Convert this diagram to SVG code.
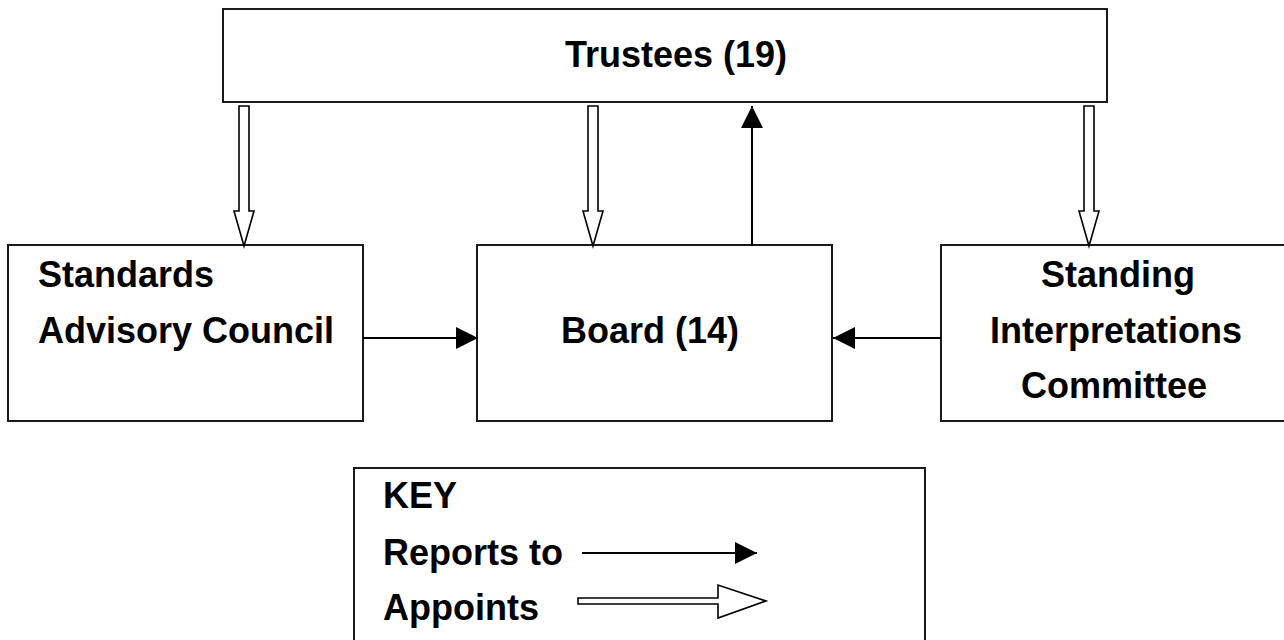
<svg xmlns="http://www.w3.org/2000/svg" width="1284" height="640" viewBox="0 0 1284 640">
  <style>
    .box { fill: #fff; stroke: #1a1a1a; stroke-width: 2; }
    .lbl { font-family: "Liberation Sans", Arial, sans-serif; font-weight: bold; font-size: 36px; fill: #000; }
    .mid { text-anchor: middle; }
    .rep { stroke: #000; stroke-width: 2; fill: none; }
    .app { fill: #fff; stroke: #000; stroke-width: 1.6; stroke-linejoin: miter; }
  </style>
  <defs>
    <marker id="head" markerUnits="userSpaceOnUse" markerWidth="22" markerHeight="22" viewBox="0 0 20 20" refX="20" refY="10" orient="auto">
      <path d="M0,0 L20,10 L0,20 Z" fill="#000"/>
    </marker>
  </defs>
  <rect width="1284" height="640" fill="#fff"/>

  <g id="trustees">
    <rect class="box" x="223" y="9" width="884" height="93"/>
    <text class="lbl mid" x="676" y="67">Trustees (19)</text>
  </g>

  <g id="sac">
    <rect class="box" x="8" y="245" width="355" height="176"/>
    <text class="lbl" x="38" y="287">Standards</text>
    <text class="lbl" x="38" y="343">Advisory Council</text>
  </g>

  <g id="board">
    <rect class="box" x="477" y="245" width="355" height="176"/>
    <text class="lbl mid" x="650" y="343">Board (14)</text>
  </g>

  <g id="sic">
    <rect class="box" x="941" y="245" width="360" height="176"/>
    <text class="lbl mid" x="1118" y="287">Standing</text>
    <text class="lbl mid" x="1116" y="343">Interpretations</text>
    <text class="lbl mid" x="1114" y="398">Committee</text>
  </g>

  <g id="connectors">
    <polygon class="app" points="239,106 249,106 249,211 254,211 244,246 234,211 239,211"/>
    <polygon class="app" points="588,106 598,106 598,211 603,211 593,246 583,211 588,211"/>
    <polygon class="app" points="1084,106 1094,106 1094,211 1099,211 1089,246 1079,211 1084,211"/>
    <line class="rep" x1="752" y1="246" x2="752" y2="106" marker-end="url(#head)"/>
    <line class="rep" x1="363" y1="338" x2="478" y2="338" marker-end="url(#head)"/>
    <line class="rep" x1="941" y1="338" x2="833" y2="338" marker-end="url(#head)"/>
  </g>

  <g id="key">
    <rect class="box" x="354" y="468" width="571" height="200"/>
    <text class="lbl" x="383" y="508">KEY</text>
    <text class="lbl" x="383" y="565">Reports to</text>
    <text class="lbl" x="383" y="620">Appoints</text>
    <line class="rep" x1="582" y1="553" x2="757" y2="553" marker-end="url(#head)"/>
    <polygon class="app" points="578,598 718,598 718,585 766,601 718,618 718,604 578,604"/>
  </g>
</svg>
